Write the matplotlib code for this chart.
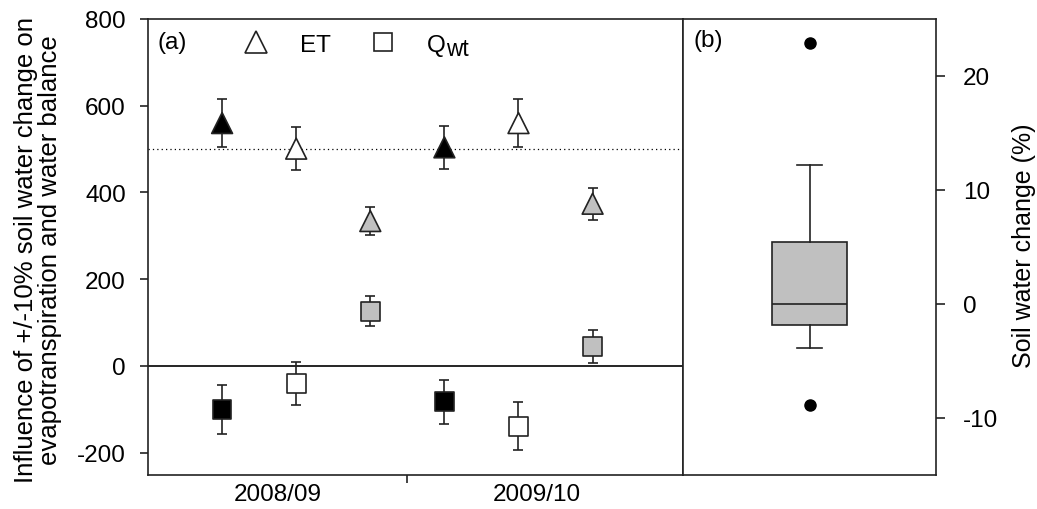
import matplotlib
matplotlib.use("Agg")
import matplotlib.pyplot as plt
from matplotlib.lines import Line2D

plt.rcParams['font.family'] = ['Liberation Sans', 'DejaVu Sans']
plt.rcParams['axes.unicode_minus'] = False

# ---- data ----
positions = [1, 2, 3, 4, 5, 6]
et_values = [560, 501, 334, 504, 560, 374]
et_err = [56, 50, 33, 50, 56, 37]
q_values = [-100, -40, 126, -83, -139, 45]
q_err = [56, 50, 34, 50, 56, 38]
point_colors = ['black', 'white', '#c0c0c0', 'black', 'white', '#c0c0c0']
year_labels = ['2008/09', '2009/10']
year_label_pos = [1.75, 5.25]
reference_level = 500

# box plot stats for soil water change (%)
sw_median = 0.0
sw_q1 = -1.9
sw_q3 = 5.4
sw_whislo = -3.85
sw_whishi = 12.2
sw_fliers = [22.85, -8.9]

FS = 17.5
LFS = 17.5
fig = plt.figure(figsize=(10.37, 5.10), dpi=100)
axa = fig.add_axes([148/1037, 1-475.7/510, 535/1037, 455.7/510])
axb = fig.add_axes([683/1037, 1-475.7/510, 253/1037, 455.7/510])

edge = '#222222'
for ax in (axa, axb):
    for s in ax.spines.values():
        s.set_color(edge)
        s.set_linewidth(1.2)

# ---- panel (a) ----
axa.axhline(reference_level, color='black', ls=(0, (1, 2.5)), lw=0.9, zorder=1)
axa.axhline(0, color='black', lw=1.2, zorder=1)
axa.errorbar(positions, et_values, yerr=et_err, fmt='none', ecolor=edge,
             elinewidth=1.2, capsize=3.6, capthick=1.2, zorder=2)
axa.errorbar(positions, q_values, yerr=q_err, fmt='none', ecolor=edge,
             elinewidth=1.2, capsize=3.6, capthick=1.2, zorder=2)
axa.scatter(positions, et_values, s=15**2, marker='^', c=point_colors,
            edgecolors=edge, linewidths=1.2, zorder=3)
axa.scatter(positions, q_values, s=13.5**2, marker='s', c=point_colors,
            edgecolors=edge, linewidths=1.2, zorder=3)

axa.set_xlim(0, 7.22)
axa.set_ylim(-251, 800)
axa.set_yticks([-200, 0, 200, 400, 600, 800])
axa.tick_params(axis='y', direction='out', length=6, width=1.2, pad=10,
                labelsize=FS, color=edge)
axa.set_xticks(year_label_pos)
axa.set_xticklabels(year_labels)
axa.tick_params(axis='x', which='major', length=0, pad=6, labelsize=FS)
axa.set_xticks([3.5], minor=True)
axa.tick_params(axis='x', which='minor', direction='out', length=6, width=1.2,
                color=edge)

axa.text(0.017, 0.95, '(a)', transform=axa.transAxes, fontsize=FS,
         ha='left', va='center')
handles = [
    Line2D([], [], ls='none', marker='^', ms=16, mfc='white', mec=edge, mew=1.2),
    Line2D([], [], ls='none', marker='s', ms=13, mfc='white', mec=edge, mew=1.2),
]
leg = axa.legend(handles, ['ET', 'Q'], ncol=2, loc='upper left',
                 bbox_to_anchor=(0.157, 0.968), frameon=False, fontsize=LFS,
                 borderpad=0, borderaxespad=0, handlelength=2.0,
                 handletextpad=0.8, columnspacing=1.15)

fig.text(38/1037, 1-250/510,
         'Influence of +/-10% soil water change on\nevapotranspiration and water balance',
         rotation=90, ha='center', va='center', multialignment='center',
         fontsize=18.5, linespacing=1.0)

# ---- panel (b) ----
stats = [dict(med=sw_median, q1=sw_q1, q3=sw_q3, whislo=sw_whislo,
              whishi=sw_whishi, fliers=sw_fliers)]
axb.bxp(stats, positions=[0.5], widths=0.3, patch_artist=True,
        boxprops=dict(facecolor='#c0c0c0', edgecolor=edge, linewidth=1.2),
        medianprops=dict(color=edge, linewidth=1.2),
        whiskerprops=dict(color=edge, linewidth=1.2),
        capprops=dict(color=edge, linewidth=1.2),
        capwidths=0.1,
        flierprops=dict(marker='o', markerfacecolor='black',
                        markeredgecolor='black', markersize=8))
axb.set_xlim(0, 1)
axb.set_ylim(-15, 25)
axb.set_xticks([])
axb.yaxis.tick_right()
axb.set_yticks([-10, 0, 10, 20])
axb.tick_params(axis='y', direction='out', length=6.5, width=1.2, pad=13,
                labelsize=FS, color=edge, left=False, right=True)
axb.text(0.043, 0.955, '(b)', transform=axb.transAxes, fontsize=FS,
         ha='left', va='center')
fig.text(1024/1037, 1-246/510, 'Soil water change (%)', rotation=90,
         ha='center', va='center', fontsize=18)

# subscript "wt" after the legend's Q, nearly full size as in the original
fig.canvas.draw()
qtext = leg.get_texts()[1]
bb = qtext.get_window_extent(fig.canvas.get_renderer())
inv = fig.transFigure.inverted()
x1, y0 = inv.transform((bb.x1 + 0.5, bb.y0 + 0.5))
fig.text(x1, y0, 'wt', fontsize=LFS * 0.93, ha='left', va='baseline')

fig.savefig('out.png', dpi=100)
